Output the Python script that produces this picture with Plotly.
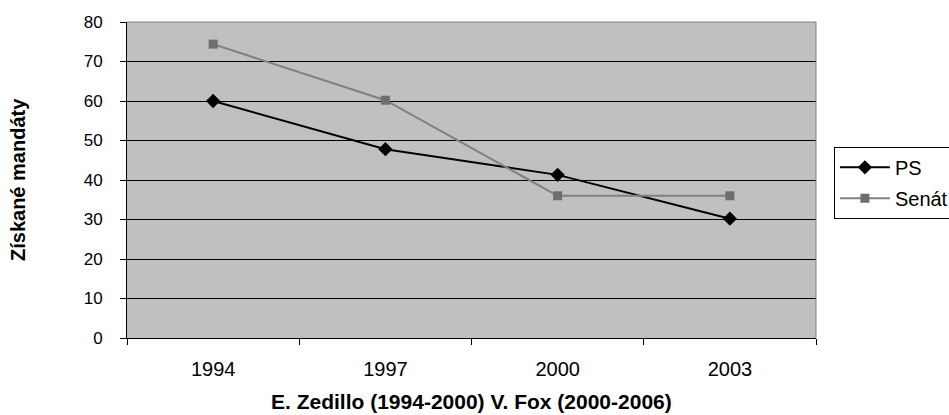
import plotly.graph_objects as go

categories = ["1994", "1997", "2000", "2003"]
ps_values = [60, 47.8, 41.3, 30.2]
senat_values = [74.4, 60.2, 36, 36]
y_ticks = [0, 10, 20, 30, 40, 50, 60, 70, 80]

FONT = "Liberation Sans, Arial, sans-serif"

fig = go.Figure()
fig.add_trace(go.Scatter(
    x=categories, y=ps_values, name="PS", mode="lines+markers",
    legendgroup="ps",
    line=dict(color="#000000", width=2),
    marker=dict(symbol="diamond", size=11, color="#000000"),
))
fig.add_trace(go.Scatter(
    x=categories, y=senat_values, name="Senát", mode="lines+markers",
    legendgroup="senat",
    line=dict(color="#808080", width=2),
    marker=dict(symbol="square", size=9, color="#6e6e6e"),
))

fig.update_layout(
    width=949, height=415,
    margin=dict(l=127, r=133, t=22, b=77, autoexpand=False),
    paper_bgcolor="white",
    plot_bgcolor="#c0c0c0",
    font=dict(family=FONT, color="#000000"),
    showlegend=True,
    legend=dict(
        x=1.026, y=0.605, xanchor="left", yanchor="top",
        bordercolor="#000000", borderwidth=1, bgcolor="white",
        font=dict(size=20, family=FONT),
        tracegroupgap=2, itemwidth=50,
    ),
    xaxis=dict(
        type="category", range=[-0.5, 3.5],
        tickson="boundaries", ticks="outside", ticklen=6, tickcolor="#000000",
        showgrid=False, showline=True, linecolor="#000000", linewidth=1,
        tickfont=dict(size=20, family=FONT),
        ticklabelstandoff=13, zeroline=False,
    ),
    yaxis=dict(
        range=[0, 80], tickvals=y_ticks,
        ticks="outside", ticklen=6, tickcolor="#000000",
        showgrid=True, gridcolor="#000000", gridwidth=1,
        showline=True, linecolor="#000000", linewidth=1,
        tickfont=dict(size=17, family=FONT),
        ticklabelstandoff=14, zeroline=False,
    ),
    shapes=[
        dict(type="line", xref="paper", yref="paper", x0=0, x1=1, y0=1, y1=1,
             line=dict(color="#808080", width=1)),
        dict(type="line", xref="paper", yref="paper", x0=1, x1=1, y0=0, y1=1,
             line=dict(color="#808080", width=1)),
    ],
    annotations=[
        dict(text="<b>Získané mandáty</b>", xref="paper", yref="paper",
             x=0, y=0.5, xshift=-109, textangle=-90, showarrow=False,
             font=dict(size=20, family=FONT), xanchor="center", yanchor="middle"),
        dict(text="<b>E. Zedillo (1994-2000) V. Fox (2000-2006)</b>", xref="paper", yref="paper",
             x=0.5, y=0, yshift=-63, showarrow=False,
             font=dict(size=21, family=FONT), xanchor="center", yanchor="middle"),
    ],
)

fig.write_html("out.html")
